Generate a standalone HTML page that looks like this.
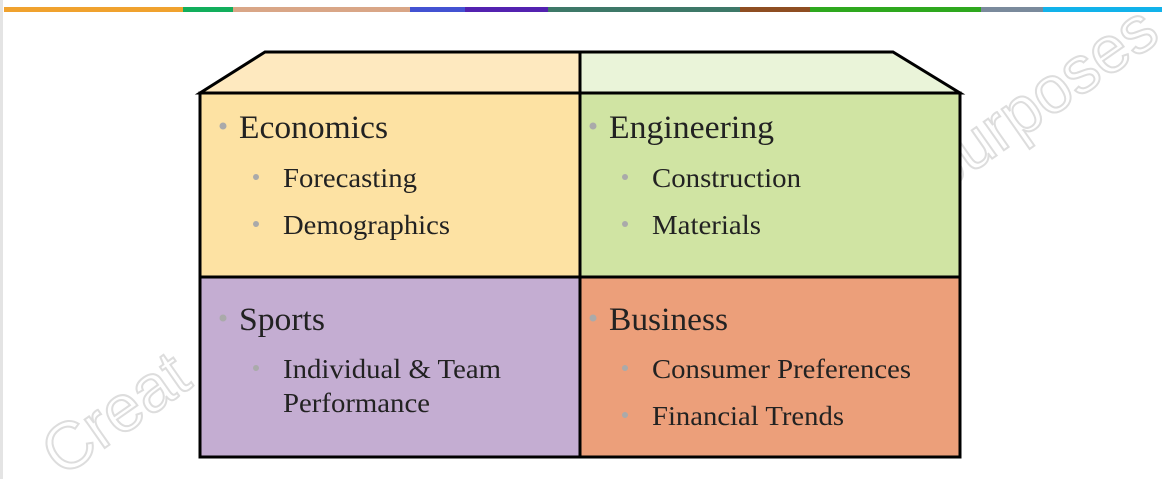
<!DOCTYPE html>
<html><head><style>
body{margin:0;width:1162px;height:479px;overflow:hidden;background:#fff;font-family:"Liberation Serif",serif;}
</style></head><body>
<svg width="1162" height="479" xmlns="http://www.w3.org/2000/svg" style="position:absolute;left:0;top:0">
<rect x="0" y="0" width="3" height="479" fill="#e4e4e4"/>
<rect x="4" y="7" width="179" height="5" fill="#f0a22e"/>
<rect x="183" y="7" width="50" height="5" fill="#12ae5c"/>
<rect x="233" y="7" width="177" height="5" fill="#d9a687"/>
<rect x="410" y="7" width="55" height="5" fill="#4352d2"/>
<rect x="465" y="7" width="83" height="5" fill="#5322b0"/>
<rect x="548" y="7" width="192" height="5" fill="#3e7868"/>
<rect x="740" y="7" width="70" height="5" fill="#8e4e22"/>
<rect x="810" y="7" width="171" height="5" fill="#2ea81e"/>
<rect x="981" y="7" width="62" height="5" fill="#7a8a9c"/>
<rect x="1043" y="7" width="119" height="5" fill="#12b2ea"/>
<g font-family="Liberation Sans,sans-serif" font-size="66" fill="#fff" stroke="#ddd" stroke-width="2">
<text x="62" y="478" transform="rotate(-35 62 478)">Creat</text>
<text x="940" y="195" transform="rotate(-35 940 195)">purposes</text>
</g>
<polygon points="265,52 580,52 580,93 200,93" fill="#fee9bf" stroke="#000" stroke-width="3"/>
<polygon points="580,52 893,52 960,93 580,93" fill="#eaf4d9" stroke="#000" stroke-width="3"/>
<rect x="200" y="93" width="380" height="184" fill="#fde2a3"/>
<rect x="580" y="93" width="380" height="184" fill="#d0e4a3"/>
<rect x="200" y="277" width="380" height="180" fill="#c4add2"/>
<rect x="580" y="277" width="380" height="180" fill="#ec9f7a"/>
<rect x="200" y="93" width="760" height="364" fill="none" stroke="#000" stroke-width="3"/>
<line x1="580" y1="93" x2="580" y2="457" stroke="#000" stroke-width="3"/>
<line x1="200" y1="277" x2="960" y2="277" stroke="#000" stroke-width="3"/>
<g fill="#aaa">
<circle cx="223" cy="126" r="3.5"/><circle cx="256" cy="177" r="3"/><circle cx="256" cy="224" r="3"/>
<circle cx="593" cy="126" r="3.5"/><circle cx="625" cy="177" r="3"/><circle cx="625" cy="224" r="3"/>
<circle cx="223" cy="318" r="3.5"/><circle cx="256" cy="368" r="3"/>
<circle cx="593" cy="318" r="3.5"/><circle cx="625" cy="368" r="3"/><circle cx="625" cy="415" r="3"/>
</g>
<g fill="#222" font-family="Liberation Serif,serif" lengthAdjust="spacingAndGlyphs">
<text x="239" y="138" font-size="33" textLength="149" lengthAdjust="spacingAndGlyphs">Economics</text>
<text x="283" y="187" font-size="27" textLength="134" lengthAdjust="spacingAndGlyphs">Forecasting</text>
<text x="283" y="234" font-size="27" textLength="167" lengthAdjust="spacingAndGlyphs">Demographics</text>
<text x="609" y="138" font-size="33" textLength="165" lengthAdjust="spacingAndGlyphs">Engineering</text>
<text x="652" y="187" font-size="27" textLength="149" lengthAdjust="spacingAndGlyphs">Construction</text>
<text x="652" y="234" font-size="27" textLength="109" lengthAdjust="spacingAndGlyphs">Materials</text>
<text x="239" y="330" font-size="33" textLength="86" lengthAdjust="spacingAndGlyphs">Sports</text>
<text x="283" y="378" font-size="27" textLength="218" lengthAdjust="spacingAndGlyphs">Individual &amp; Team</text>
<text x="283" y="412" font-size="27" textLength="147" lengthAdjust="spacingAndGlyphs">Performance</text>
<text x="609" y="330" font-size="33" textLength="119" lengthAdjust="spacingAndGlyphs">Business</text>
<text x="652" y="378" font-size="27" textLength="259" lengthAdjust="spacingAndGlyphs">Consumer Preferences</text>
<text x="652" y="425" font-size="27" textLength="192" lengthAdjust="spacingAndGlyphs">Financial Trends</text>
</g>
</svg>
</body></html>
